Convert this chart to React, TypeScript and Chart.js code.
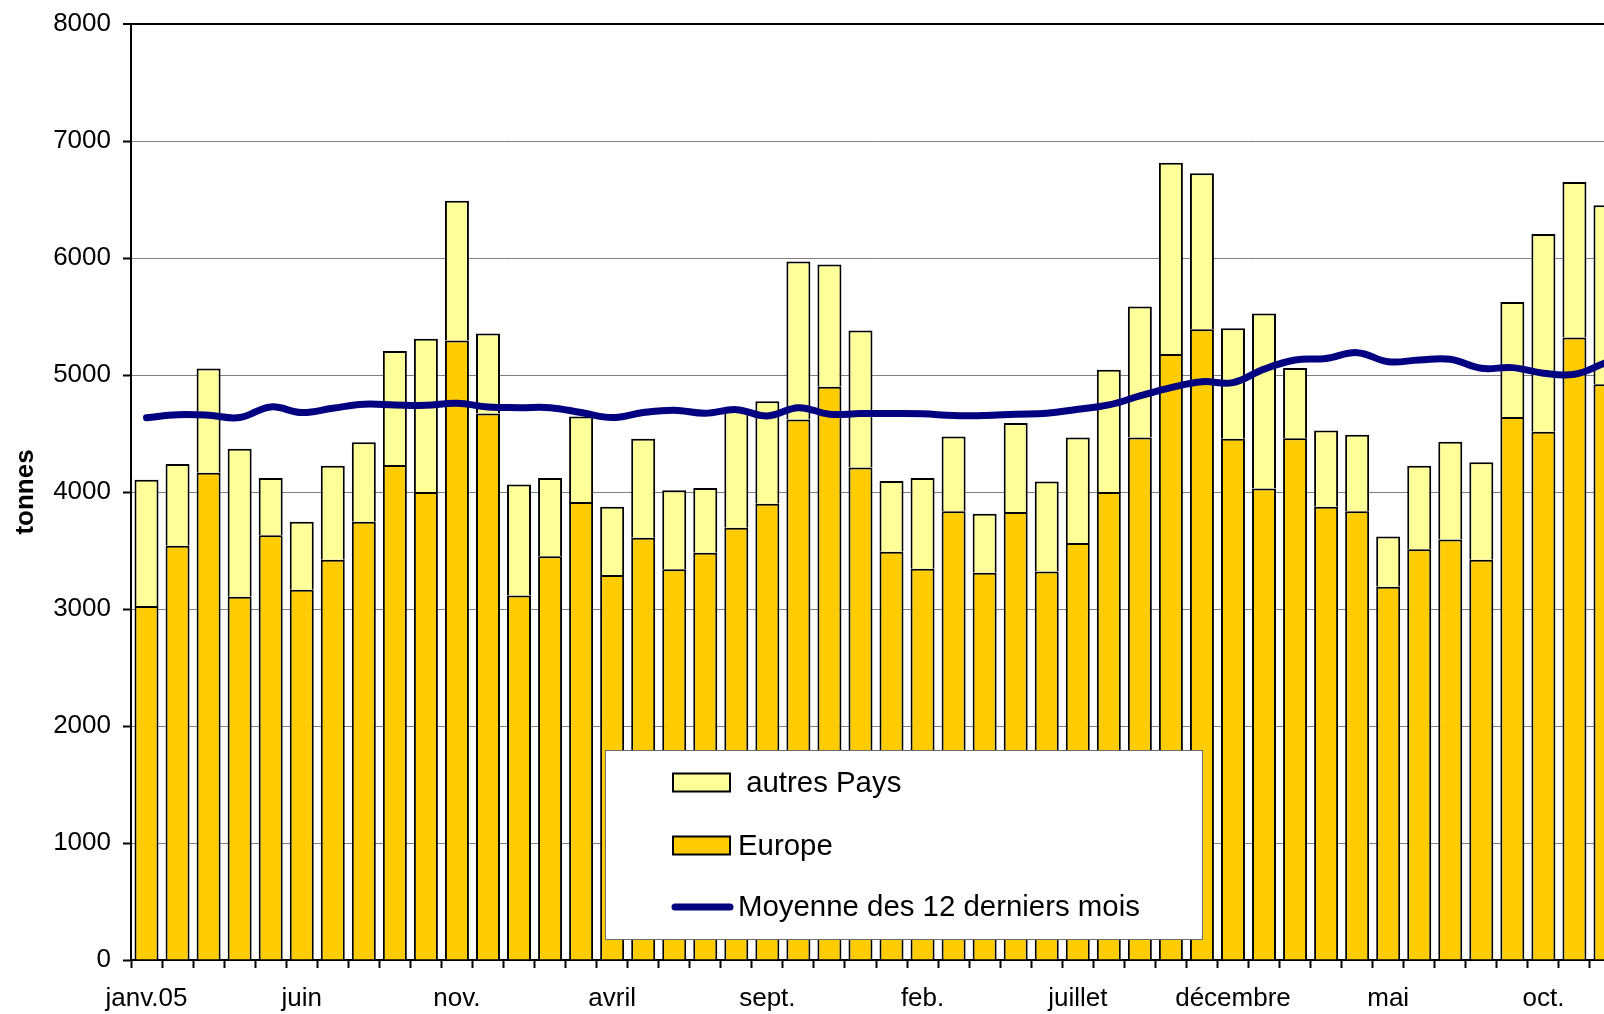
import React, { useEffect, useRef } from 'react';
import { Chart, registerables } from 'chart.js';

Chart.register(...registerables);

// Month tick labels (only every 5th month is labelled on the axis)
const tickLabels = [
  'janv.05', '', '', '', '', 'juin', '', '', '', '', 'nov.', '', '', '', '',
  'avril', '', '', '', '', 'sept.', '', '', '', '', 'feb.', '', '', '', '',
  'juillet', '', '', '', '', 'décembre', '', '', '', '', 'mai', '', '', '', '',
  'oct.', '', '',
];

// Europe (tonnes)
const europe = [
  3025, 3540, 4165, 3105, 3630, 3165, 3420, 3745, 4230, 4000, 5295, 4670,
  3115, 3450, 3915, 3290, 3610, 3340, 3480, 3695, 3900, 4620, 4900, 4210,
  3490, 3345, 3835, 3310, 3830, 3320, 3565, 4000, 4465, 5180, 5390, 4455,
  4030, 4460, 3875, 3835, 3190, 3510, 3595, 3420, 4640, 4515, 5320, 4920,
];

// autres Pays (tonnes)
const autresPays = [
  1080, 700, 890, 1265, 490, 580, 805, 680, 975, 1310, 1195, 685,
  950, 670, 730, 585, 845, 675, 555, 1005, 875, 1350, 1045, 1170,
  605, 775, 640, 505, 760, 770, 900, 1045, 1120, 1635, 1335, 945,
  1495, 600, 650, 655, 430, 715, 835, 835, 985, 1690, 1330, 1530,
];

// Moyenne des 12 derniers mois (tonnes)
const moyenne = [
  4635, 4660, 4656, 4636, 4727, 4679, 4716, 4750, 4744, 4741, 4759, 4727,
  4721, 4721, 4679, 4636, 4679, 4699, 4673, 4704, 4650, 4721, 4665, 4670,
  4670, 4668, 4653, 4653, 4665, 4673, 4707, 4744, 4821, 4892, 4943, 4935,
  5050, 5128, 5141, 5191, 5114, 5128, 5134, 5057, 5063, 5015, 5006, 5105,
];

const FONT = "'Liberation Sans', Arial, Helvetica, sans-serif";

const LABEL_AUTRES = ' autres Pays';
const LABEL_EUROPE = 'Europe';
const LABEL_MOY = 'Moyenne des 12 derniers mois';

const boxLegend = {
  id: 'boxLegend',
  afterDraw(chart: any) {
    const { ctx } = chart;
    const ds = chart.data.datasets;
    const find = (l: string) => ds.find((d: any) => d.label === l);
    ctx.save();
    // frame
    ctx.fillStyle = '#ffffff';
    ctx.fillRect(605, 750, 598, 190);
    ctx.strokeStyle = '#6b6b6b';
    ctx.lineWidth = 1;
    ctx.strokeRect(605.5, 750.5, 597, 189);

    ctx.font = `29.4px ${FONT}`;
    ctx.textBaseline = 'middle';
    ctx.textAlign = 'left';

    const rows = [
      { label: LABEL_AUTRES, y: 782.5, kind: 'box' },
      { label: LABEL_EUROPE, y: 845.5, kind: 'box' },
      { label: LABEL_MOY, y: 907, kind: 'line' },
    ];
    for (const r of rows) {
      const d: any = find(r.label);
      if (!d) continue;
      if (r.kind === 'box') {
        ctx.fillStyle = d.backgroundColor;
        ctx.fillRect(673, r.y - 9, 57, 18);
        ctx.strokeStyle = '#000';
        ctx.lineWidth = 2;
        ctx.strokeRect(673, r.y - 9, 57, 18);
      } else {
        ctx.strokeStyle = d.borderColor;
        ctx.lineWidth = 7;
        ctx.lineCap = 'round';
        ctx.beginPath();
        ctx.moveTo(675, r.y);
        ctx.lineTo(730, r.y);
        ctx.stroke();
      }
      ctx.fillStyle = '#000';
      ctx.fillText(r.label, 738, r.y + 1);
    }
    ctx.restore();
  },
};

export default function App() {
  const ref = useRef<HTMLCanvasElement | null>(null);

  useEffect(() => {
    if (!ref.current) return;
    Chart.defaults.font.family = FONT;
    const chart = new Chart(ref.current, {
      type: 'bar',
      data: {
        labels: tickLabels,
        datasets: [
          {
            type: 'line',
            label: LABEL_MOY,
            data: moyenne,
            borderColor: '#000080',
            backgroundColor: '#000080',
            borderWidth: 7,
            pointRadius: 0,
            tension: 0.4,
            stack: 'moy',
            order: 0,
            borderCapStyle: 'round',
            borderJoinStyle: 'round',
          } as any,
          {
            label: LABEL_EUROPE,
            data: europe,
            backgroundColor: '#FFCC00',
            borderColor: '#000000',
            borderWidth: 2,
            stack: 'tot',
            order: 1,
          },
          {
            label: LABEL_AUTRES,
            data: autresPays,
            backgroundColor: '#FFFF99',
            borderColor: '#000000',
            borderWidth: 2,
            stack: 'tot',
            order: 1,
          },
        ],
      },
      options: {
        responsive: false,
        animation: false,
        events: [],
        layout: { padding: { top: 24, right: 19, bottom: 0, left: 0 } },
        datasets: { bar: { categoryPercentage: 1, barPercentage: 0.773 } } as any,
        plugins: { legend: { display: false }, tooltip: { enabled: false } },
        scales: {
          x: {
            stacked: true,
            z: 1,
            grid: {
              drawOnChartArea: false,
              drawTicks: true,
              tickLength: 8,
              tickColor: '#000',
              tickWidth: 2,
              offset: true,
            },
            border: { color: '#000', width: 2 },
            ticks: {
              autoSkip: false,
              maxRotation: 0,
              minRotation: 0,
              color: '#000',
              font: { size: 26, family: FONT },
              padding: 15,
            },
            afterFit: (s: any) => {
              s.height = 54;
            },
          },
          y: {
            stacked: true,
            min: 0,
            max: 8000,
            ticks: {
              stepSize: 1000,
              color: '#000',
              font: { size: 26, family: FONT },
              padding: 12,
              callback: (v: any) => String(v),
            },
            grid: {
              color: (c: any) => (c.tick && c.tick.value === 8000 ? '#000' : '#808080'),
              lineWidth: (c: any) => (c.tick && c.tick.value === 8000 ? 2 : 1),
              tickColor: '#000',
              tickLength: 8,
              tickWidth: 2,
            },
            border: { color: '#000', width: 2 },
            title: {
              display: true,
              text: 'tonnes',
              color: '#000',
              font: { size: 26, weight: 'bold', family: FONT },
              padding: { top: 10, bottom: 0 },
            },
            afterFit: (s: any) => {
              s.width = 131;
              s.paddingTop = 0;
              s.paddingBottom = 0;
            },
          },
        },
      },
      plugins: [boxLegend],
    });
    return () => chart.destroy();
  }, []);

  return (
    <div
      style={{
        position: 'fixed',
        left: 0,
        top: 0,
        width: '100vw',
        height: '100vh',
        overflow: 'hidden',
        background: '#fff',
      }}
    >
      <canvas ref={ref} width={1640} height={1014} style={{ display: 'block' }} />
    </div>
  );
}
